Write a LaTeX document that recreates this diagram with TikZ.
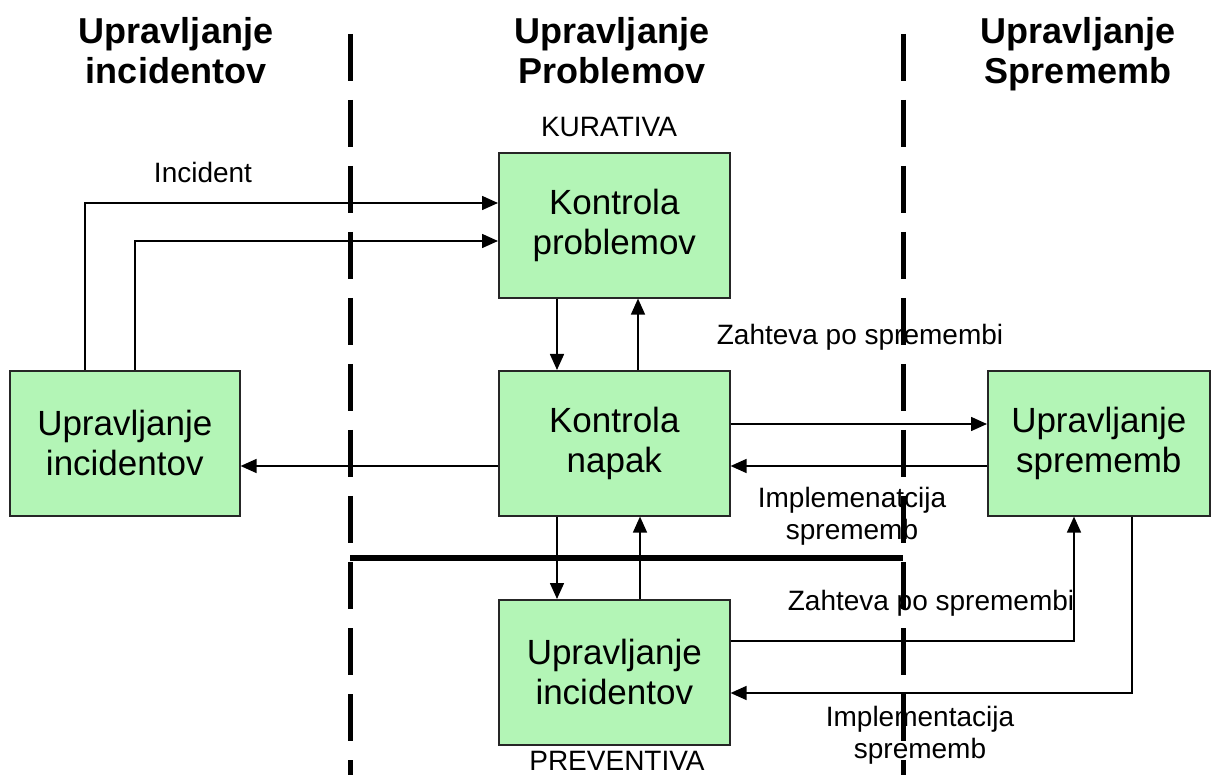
\documentclass[tikz,border=0pt]{standalone}
\usepackage{fontspec}
\setmainfont{Liberation Sans}
\usetikzlibrary{arrows.meta}
\definecolor{boxgreen}{RGB}{179,245,182}
\begin{document}
\begin{tikzpicture}[x=1pt,y=-1pt,
  box/.style={draw=black!85, line width=1.6pt, fill=boxgreen,
    minimum width=231pt, minimum height=145pt, anchor=north west,
    inner sep=0pt, align=center, font=\fontsize{35}{40}\selectfont},
  heading/.style={align=center, inner sep=0pt, font=\bfseries\fontsize{36}{40}\selectfont},
  lbl/.style={align=center, inner sep=0pt, font=\fontsize{28}{32}\selectfont},
  flow/.style={line width=1.6pt, -{Triangle[length=16pt,width=14pt]}},
  divider/.style={line width=5pt, dash pattern=on 47pt off 19pt},
  border/.style={line width=6pt}]
\useasboundingbox (0,0) rectangle (1211,775);

% column headings (equal depth on the second line keeps them aligned)
\node[heading] (h1) at (176,54) {Upravljanje\\incidentov\vphantom{p}};
\node[heading] (h2) at (612,54) {Upravljanje\\Problemov\vphantom{p}};
\node[heading] (h3) at (1078,54) {Upravljanje\\Sprememb\vphantom{p}};

% process boxes
\node[box] (prob)  at (498,152) {Kontrola\\problemov};
\node[box] (napak) at (498,370) {Kontrola\\napak};
\node[box] (prev)  at (498,599) {Upravljanje\\incidentov};
\node[box, minimum width=230pt] (inc) at (9,370) {Upravljanje\\incidentov};
\node[box, minimum width=222pt] (chg) at (987,370) {Upravljanje\\sprememb};

% labels
\node[lbl] (kur)  at (609,127) {KURATIVA};
\node[lbl] (prv)  at (617,761) {PREVENTIVA};
\node[lbl] (linc) at (203,172) {Incident};
\node[lbl] (lz1)  at (860,337) {Zahteva po spremembi};
\node[lbl] (li1)  at (852,516) {Implemenatcija\\sprememb};
\node[lbl] (lz2)  at (931,603) {Zahteva po spremembi};
\node[lbl] (li2)  at (920,735) {Implementacija\\sprememb};

% incidents into problem control
\draw[flow] ([xshift=76pt]inc.north west) |- ([yshift=-51pt]prob.north west);
\draw[flow] ([xshift=126pt]inc.north west) |- ([yshift=-89pt]prob.north west);

% problem control <-> error control
\draw[flow] ([xshift=59pt]prob.south west) -- ([xshift=59pt]napak.north west);
\draw[flow] ([xshift=140pt]napak.north west) -- ([xshift=140pt]prob.south west);

% error control -> incident management
\draw[flow] ([yshift=-96pt]napak.north west) -- ([yshift=-96pt]inc.north east);

% error control <-> change management
\draw[flow] ([yshift=-54pt]napak.north east) -- ([yshift=-54pt]chg.north west);
\draw[flow] ([yshift=-96pt]chg.north west) -- ([yshift=-96pt]napak.north east);

% error control <-> preventive incident management
\draw[flow] ([xshift=59pt]napak.south west) -- ([xshift=59pt]prev.north west);
\draw[flow] ([xshift=142pt]prev.north west) -- ([xshift=142pt]napak.south west);

% preventive incident management <-> change management
\draw[flow] ([yshift=-42pt]prev.north east) -| ([xshift=87pt]chg.south west);
\draw[flow] ([xshift=145pt]chg.south west) |- ([yshift=-94pt]prev.north east);

% column dividers and the curative/preventive border
\coordinate (d1t) at (350,34);  \coordinate (d1b) at (350,775);
\coordinate (d2t) at (903,34);  \coordinate (d2b) at (903,775);
\coordinate (bl) at (350,558);  \coordinate (br) at (903,558);
\draw[divider] (d1t) -- (d1b);
\draw[divider] (d2t) -- (d2b);
\draw[border] (bl) -- (br);
\end{tikzpicture}
\end{document}
